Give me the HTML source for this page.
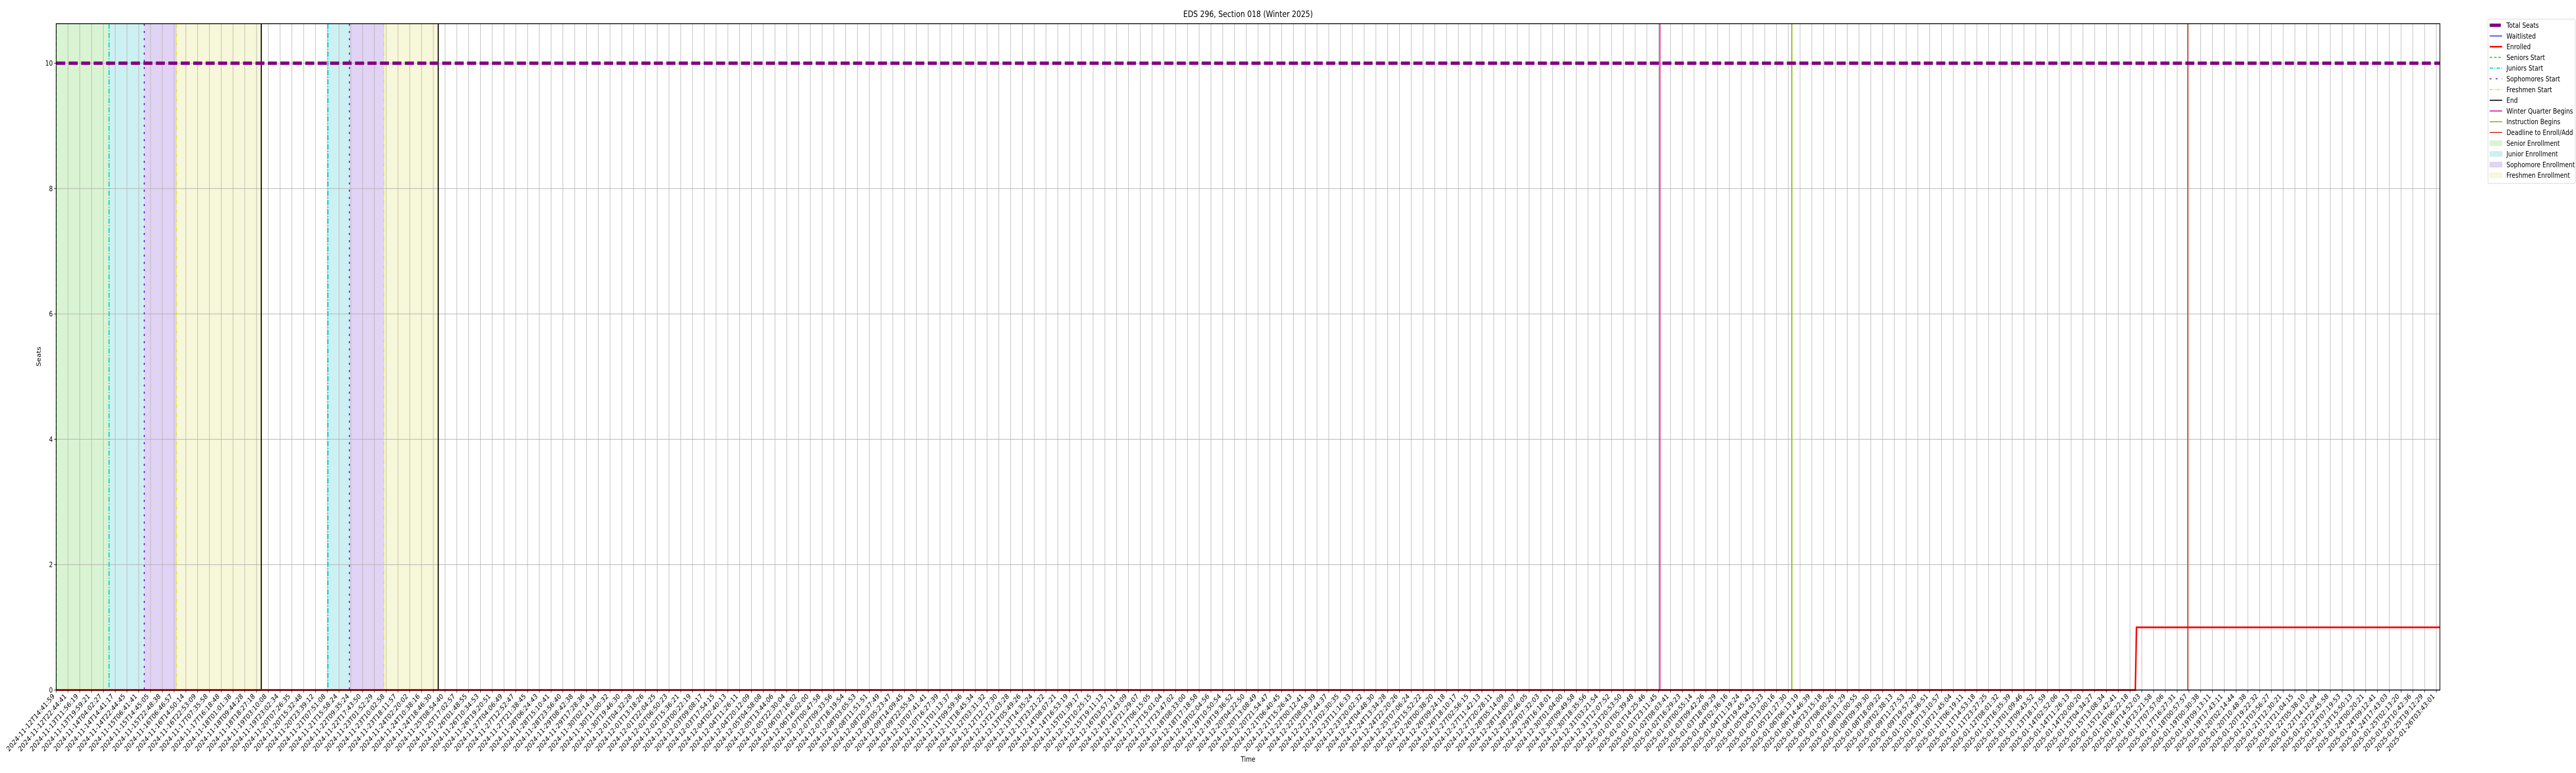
<!DOCTYPE html>
<html><head><meta charset="utf-8"><style>
html,body{margin:0;padding:0;background:#fff;width:100%;height:100%;overflow:hidden;}
svg{display:block;overflow:hidden;width:100vw;height:100vh;}
svg text{font-family:"DejaVu Sans","Liberation Sans",sans-serif;fill:#000;}
</style></head><body>
<svg id="chart" viewBox="0 0 6000 1500" preserveAspectRatio="none" xmlns="http://www.w3.org/2000/svg">
<g id="shades"></g>
<g id="grid"></g>
<g id="vlines"></g>
<g id="series"></g>
<rect x="131" y="46" width="5552" height="1293" fill="none" stroke="#000" stroke-width="1.6"/>
<g id="axes"></g>
<text x="2907" y="33" font-size="16.7" text-anchor="middle">EDS 296, Section 018 (Winter 2025)</text>
<text x="2907" y="1478" font-size="13.9" text-anchor="middle">Time</text>
<text x="95" y="692" font-size="13.9" text-anchor="middle" transform="rotate(-90 95 692)">Seats</text>
<g id="legend"></g>
</svg>
<script>
// ---- data ----
const tickAnchors = [
[0,"2024-11-12T14:41:59"],[1,"2024-11-12T22:44:41"],[2,"2024-11-13T11:56:19"],[3,"2024-11-13T19:59:21"],
[4,"2024-11-14T04:02:27"],[5,"2024-11-14T14:41:17"],[6,"2024-11-14T22:44:45"],[7,"2024-11-15T06:41:41"],
[8,"2024-11-15T14:45:05"],[9,"2024-11-15T22:48:38"],[10,"2024-11-16T06:46:57"],[11,"2024-11-16T14:50:14"],
[12,"2024-11-16T22:53:09"],[18,"2024-11-19T03:10:08"],[19,"2024-11-19T23:02:34"],[20,"2024-11-20T07:26:35"],
[21,"2024-11-20T15:32:48"],[22,"2024-11-20T23:39:12"],[23,"2024-11-21T07:51:08"],[24,"2024-11-21T15:58:24"],
[25,"2024-11-22T09:35:24"],[26,"2024-11-22T17:43:50"],[27,"2024-11-23T01:52:29"],[28,"2024-11-23T10:02:58"],
[29,"2024-11-23T18:11:57"],[30,"2024-11-24T02:20:02"],[31,"2024-11-24T10:38:16"],[32,"2024-11-24T18:46:30"],
[33,"2024-11-25T08:54:40"],[34,"2024-11-25T17:02:57"],
[136,"2025-01-01T23:11:45"],[137,"2025-01-02T08:03:41"],[138,"2025-01-02T16:29:23"],[139,"2025-01-03T00:55:14"],
[140,"2025-01-03T09:42:26"],[141,"2025-01-03T18:09:29"],[142,"2025-01-04T02:36:16"],[143,"2025-01-04T11:19:24"],
[144,"2025-01-04T19:45:42"],[145,"2025-01-05T04:33:23"],[146,"2025-01-05T13:00:16"],[147,"2025-01-05T21:27:30"],
[148,"2025-01-06T06:13:19"],[149,"2025-01-06T14:46:39"],[150,"2025-01-06T23:15:18"],[151,"2025-01-07T08:00:26"],
[152,"2025-01-07T16:31:29"],[153,"2025-01-08T01:00:55"],[154,"2025-01-08T09:39:30"],[155,"2025-01-08T18:09:22"],
[156,"2025-01-09T02:38:13"],[157,"2025-01-09T11:27:53"],[158,"2025-01-09T19:57:20"],[159,"2025-01-10T04:36:51"],
[175,"2025-01-15T21:42:41"],[176,"2025-01-16T06:22:18"],[177,"2025-01-16T14:52:03"],[178,"2025-01-16T23:21:58"],
[179,"2025-01-17T07:57:06"],[180,"2025-01-17T16:27:31"],[181,"2025-01-18T00:57:57"],[182,"2025-01-19T00:30:38"],
[183,"2025-01-19T09:13:11"],[184,"2025-01-19T17:43:11"],[185,"2025-01-20T02:14:44"],
[194,"2025-01-23T07:19:53"],[195,"2025-01-23T15:50:13"],[196,"2025-01-24T00:20:21"],[197,"2025-01-24T09:12:41"],
[198,"2025-01-24T17:43:03"],[199,"2025-01-25T02:13:20"],[200,"2025-01-25T10:42:36"],[201,"2025-01-25T19:12:29"],
[202,"2025-01-26T03:43:01"]
];
const yTicks = [0,2,4,6,8,10];
const totalSeats = [[0,10],[202.3,10]];
const waitlisted = [[0,0],[202.3,0]];
const enrolled = [[0,0],[176.45,0],[176.55,1],[202.3,1]];
const windows = [
 ["senior",0,4.48],["junior",4.48,7.47],["sophomore",7.47,10.2],["freshmen",10.2,17.4],
 ["junior",23.06,24.88],["sophomore",24.88,27.8],["freshmen",27.8,32.42]
];
const eventLines = [
 ["seniors-start",0],["juniors-start",4.48],["sophomores-start",7.47],["freshmen-start",10.2],["end",17.4],
 ["juniors-start",23.06],["sophomores-start",24.88],["freshmen-start",27.8],["end",32.42],
 ["winter-quarter-begins",136.1],["instruction-begins",147.3],["deadline-enroll-add",180.9]
];
// ---- axes ----
const NT = 203, X0 = 131, X1 = 5683, XMAX = 202.3;
const Y0 = 1339, YT = 46, YMAX = 10.63;
const sx = i => X0 + i/XMAX*(X1-X0);
const sy = v => Y0 - v/YMAX*(Y0-YT);
const NS="http://www.w3.org/2000/svg";
function mk(tag, attrs, parent){const e=document.createElementNS(NS,tag);for(const k in attrs)e.setAttribute(k,attrs[k]);parent.appendChild(e);return e;}
const labels = new Array(NT);
const pad=n=>String(n).padStart(2,"0");
const fmt=d=>d.getUTCFullYear()+"-"+pad(d.getUTCMonth()+1)+"-"+pad(d.getUTCDate())+"T"+pad(d.getUTCHours())+":"+pad(d.getUTCMinutes())+":"+pad(d.getUTCSeconds());
for(let a=0;a<tickAnchors.length;a++){labels[tickAnchors[a][0]]=tickAnchors[a][1];
 if(a+1<tickAnchors.length){const [i0,s0]=tickAnchors[a],[i1,s1]=tickAnchors[a+1];const t0=Date.parse(s0+"Z"),t1=Date.parse(s1+"Z");
 for(let i=i0+1;i<i1;i++)labels[i]=fmt(new Date(t0+(t1-t0)*(i-i0)/(i1-i0)));}}
const shadeCol={senior:"#d9f4d2",junior:"#cdf0f2",sophomore:"#e1d3f4",freshmen:"#f7f7d9"};
const G=id=>document.getElementById(id);
windows.forEach(w=>{
 const r=mk("rect",{x:sx(w[1]),y:YT,width:sx(w[2])-sx(w[1]),height:Y0-YT,fill:shadeCol[w[0]]},G("shades"));
 
 
});
for(let i=0;i<NT;i++){
 const x=sx(i);
 const l=mk("line",{x1:x,x2:x,y1:YT,y2:Y0,stroke:"#b0b0b0","stroke-width":1.1},G("grid"));
 
 
 const t=mk("line",{x1:x,x2:x,y1:Y0,y2:Y0+5,stroke:"#000","stroke-width":1.1},G("axes"));
 
 
 const tx=mk("text",{x:x-3,y:Y0+13,"font-size":13.9,"text-anchor":"end",transform:`rotate(-45 ${x-3} ${Y0+13})`},G("axes"));
 tx.textContent=labels[i];
 
 
}
yTicks.forEach(v=>{
 const y=sy(v);
 const l=mk("line",{x1:X0,x2:X1,y1:y,y2:y,stroke:"#b0b0b0","stroke-width":1.1},G("grid"));
 
 
 const t=mk("line",{x1:X0-5,x2:X0,y1:y,y2:y,stroke:"#000","stroke-width":1.1},G("axes"));
 
 
 const tx=mk("text",{x:X0-8,y:y+5,"font-size":13.9,"text-anchor":"end"},G("axes"));
 tx.textContent=v;
 
 
});
const lineStyle={
 "seniors-start":{stroke:"#33cc22",w:2,d:"8,4"},
 "juniors-start":{stroke:"#00ced1",w:2.5,d:"10,3,2,3"},
 "sophomores-start":{stroke:"#6a22dd",w:2.5,d:"4,10"},
 "freshmen-start":{stroke:"#dddd33",w:2,d:"8,2,2,2,2,2"},
 "end":{stroke:"#000",w:2.5,d:""},
 "winter-quarter-begins":{stroke:"#dd119c",w:2.5,d:""},
 "instruction-begins":{stroke:"#88bb00",w:2.5,d:""},
 "deadline-enroll-add":{stroke:"#cc4422",w:2.5,d:""}
};
eventLines.forEach(e=>{
 const s=lineStyle[e[0]];const x=sx(e[1]);
 const l=mk("line",{x1:x,x2:x,y1:YT,y2:Y0,stroke:s.stroke,"stroke-width":s.w},G("vlines"));
 if(s.d)l.setAttribute("stroke-dasharray",s.d);
 
 
});
const path=pts=>pts.map((p,i)=>(i?"L":"M")+sx(p[0]).toFixed(1)+","+sy(p[1]).toFixed(1)).join("");
const ts=mk("path",{d:path(totalSeats),fill:"none",stroke:"#800080","stroke-width":6.5,"stroke-dasharray":"21,8"},G("series"));


const en=mk("path",{d:path(enrolled),fill:"none",stroke:"#ff0000","stroke-width":3.5},G("series"));


const wl=mk("path",{d:path(waitlisted.map(p=>[Math.max(p[0],176.5),p[1]])),fill:"none",stroke:"#0000ff","stroke-width":1.5},G("series"));


// ---- legend ----
const legendItems=[
 ["Total Seats","line","#800080",6.5,""],["Waitlisted","line","#0000ff",1.5,""],["Enrolled","line","#ff0000",3,""],
 ["Seniors Start","line","#33cc22",2,"6,4"],["Juniors Start","line","#00ced1",2,"8,3,2,3"],["Sophomores Start","line","#6a22dd",2,"4,10"],
 ["Freshmen Start","line","#dddd33",2,"6,2,2,2,2,2"],["End","line","#000",2,""],["Winter Quarter Begins","line","#dd119c",2,""],
 ["Instruction Begins","line","#88bb00",2,""],["Deadline to Enroll/Add","line","#cc4422",2,""],
 ["Senior Enrollment","patch","#d9f4d2"],["Junior Enrollment","patch","#cdf0f2"],["Sophomore Enrollment","patch","#e1d3f4"],["Freshmen Enrollment","patch","#f7f7d9"]
];
const lg=G("legend");
mk("rect",{x:5795,y:37,width:203,height:319,rx:3,fill:"#fff",stroke:"#d0d0d0","stroke-width":1},lg);
legendItems.forEach((it,k)=>{
 const y=49+k*20.8;
 const g=mk("g",{},lg);
 
 
 if(it[1]==="line"){const l=mk("line",{x1:5799,x2:k===0?5825:5828,y1:y,y2:y,stroke:it[2],"stroke-width":it[3]},g);if(it[4])l.setAttribute("stroke-dasharray",it[4]);}
 else mk("rect",{x:5799,y:y-5,width:29,height:10,fill:it[2],stroke:it[2]},g);
 const t=mk("text",{x:5838,y:y+5,"font-size":13.9},g);t.textContent=it[0];
});
</script>
</body></html>
